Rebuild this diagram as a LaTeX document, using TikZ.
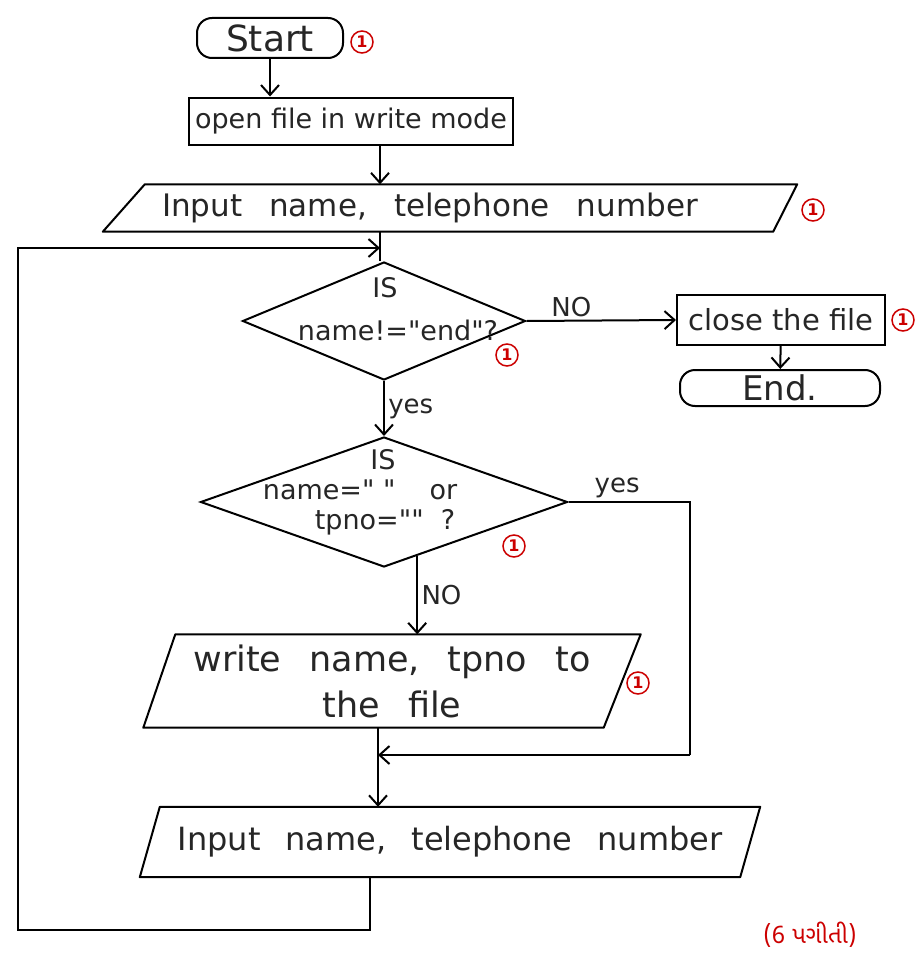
\documentclass[tikz,border=0pt]{standalone}
\usepackage{fontspec}
\setmainfont{DejaVu Sans}[Ligatures=TeXOff]
\newfontfamily\gujfont[Script=Gujarati]{Noto Sans Gujarati UI}
\usetikzlibrary{shapes.geometric,arrows.meta,calc}
\newcommand\dq{"}
\newcommand\wsp[1]{\spaceskip=#1\relax}
\begin{document}
\begin{tikzpicture}[x=1pt,y=-1pt,
  every node/.style={font=\fontsize{27}{34}\selectfont, text=black!85},
  stepbox/.style={draw, rectangle, line width=2pt, inner sep=0pt},
  term/.style={draw, rectangle, rounded corners=15pt, line width=2pt, inner sep=0pt},
  iobox/.style={rectangle, inner sep=0pt, align=center},
  iodraw/.style={line width=2pt, line join=round},
  dec/.style={draw, diamond, line width=2pt, inner sep=2pt},
  arr/.style={line width=2pt, -{Straight Barb[length=10pt,width=18pt]}},
  ln/.style={line width=2pt},
  redone/.style={circle, draw=red!80!black, text=red!80!black, line width=1.5pt, inner sep=0pt, minimum size=22pt, font=\fontsize{16}{16}\bfseries\selectfont},
  lbl/.style={font=\fontsize{26}{30}\selectfont}
]
\useasboundingbox (0,0) rectangle (923,958);
\fill[white] (0,0) rectangle (923,958);

% nodes
\node[term, minimum width=146pt, minimum height=40pt, font=\fontsize{36}{40}\selectfont] (start) at (270,38) {Start};
\node[redone] (r1) at (362,42) {1};
\node[stepbox, minimum width=324pt, minimum height=47pt] (open) at (351,121) {open file in write mode};

\node[iobox, minimum width=694pt, minimum height=47pt, font=\fontsize{31}{36}\selectfont] (in1) at (450,208) {\wsp{27pt}Input name, telephone number\hspace*{40pt}};
\draw[iodraw] ($(in1.north west)+(42,0)$) -- (in1.north east) -- ($(in1.south east)-(24,0)$) -- (in1.south west) -- cycle;
\node[redone] (r2) at (813,210) {1};

\node[dec, minimum width=283pt, minimum height=118pt] (d1) at (384,321) {};
\node at (385,288) {IS};
\node at (398,330) {name!=\dq end\dq ?};
\node[redone] (r3) at (507,355) {1};

\node[stepbox, minimum width=208pt, minimum height=50pt, font=\fontsize{29}{34}\selectfont] (close) at (781,320) {close the file};
\node[redone] (r4) at (903,320) {1};
\node[term, minimum width=200pt, minimum height=36pt, font=\fontsize{34}{36}\selectfont] (end) at (780,388) {End.};

\node[dec, minimum width=367pt, minimum height=130pt] (d2) at (384,502) {};
\node at (383,460) {IS};
\node at (360,490) {name=\dq\ \dq\hspace{34pt}or};
\node at (385,522) {tpno=\dq\dq\ \ ?};
\node[redone] (r5) at (514,546) {1};

\node[iobox, minimum width=497pt, minimum height=93pt, font=\fontsize{35}{46}\selectfont] (wr) at (392,681) {\wsp{28pt}write name, tpno to\\\wsp{28pt}the file};
\draw[iodraw] ($(wr.north west)+(32,0)$) -- (wr.north east) -- ($(wr.south east)-(37,0)$) -- (wr.south west) -- cycle;
\node[redone] (r6) at (638,683) {1};

\node[iobox, minimum width=620pt, minimum height=70pt, font=\fontsize{32}{36}\selectfont] (in2) at (450,842) {\wsp{25pt}Input name, telephone number};
\draw[iodraw] ($(in2.north west)+(20,0)$) -- (in2.north east) -- ($(in2.south east)-(20,0)$) -- (in2.south west) -- cycle;

\node[text=red!80!black, font=\gujfont\fontsize{24}{28}\selectfont] (note) at (810,935) {(6 પગીતી)};

% coordinates
\coordinate (colA) at (380,0);
\coordinate (m1) at (380,248);
\coordinate (lt) at (18,248);
\coordinate (lb) at (18,930);
\coordinate (bb) at (370,930);
\coordinate (yr) at (690,0);
\coordinate (yb) at (690,755);
\coordinate (m2) at (378,755);
\coordinate (d2out) at ($(d2.south)!0.18!(d2.east)$);

% connectors
\draw[arr] (start) -- (start |- open.north);
\draw[arr] (open.south -| colA) -- (in1.north -| colA);
\draw[ln] (in1.south -| colA) -- (d1.north -| colA);
\draw[arr] (in2.south -| bb) -- (bb) -- (lb) -- (lt) -- (m1);
\draw[arr] (d1.east) -- node[above, lbl, pos=0.3] {NO} (close.west);
\draw[arr] (close) -- (end);
\draw[arr] (d1.south) -- node[right, lbl] {yes} (d2.north);
\draw[ln] (d2.east) -- node[above, lbl, pos=0.4] {yes} (d2.east -| yr) -- (yb);
\draw[arr] (yb) -- (m2);
\draw[arr] (d2out) -- node[right, lbl] {NO} (wr.north -| d2out);
\draw[arr] (wr.south -| m2) -- (in2.north -| m2);
\end{tikzpicture}
\end{document}
